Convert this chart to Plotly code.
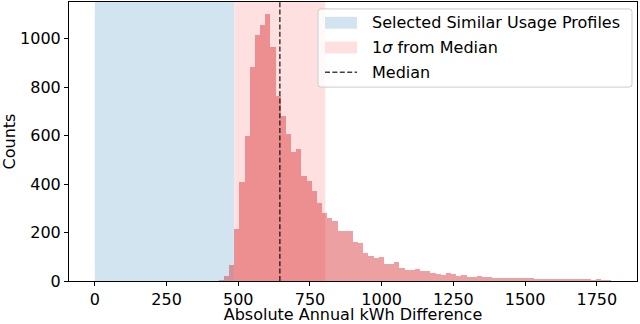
import plotly.graph_objects as go

# histogram of absolute annual kWh differences: 100 bins of 18 kWh from 0
bin_start = 0
bin_width = 18
counts = [
    0, 0, 0, 0, 0, 0, 0, 0, 0, 0,
    0, 0, 0, 0, 0, 0, 0, 0, 0, 0,
    0, 0, 0, 2, 4, 20, 65, 216, 408, 600,
    882, 1016, 1057, 1102, 967, 763, 682, 608, 533, 547,
    432, 412, 372, 324, 282, 261, 247, 205, 205, 205,
    159, 155, 117, 104, 97, 99, 69, 69, 78, 55,
    47, 47, 51, 40, 40, 32, 30, 23, 32, 27,
    22, 24, 16, 16, 20, 16, 16, 11, 14, 14,
    14, 14, 13, 12, 12, 8, 8, 8, 8, 8,
    8, 8, 8, 8, 8, 8, 6, 8, 4, 4,
]
median_kwh = 645
sigma_kwh = 158

x_ticks = [0, 250, 500, 750, 1000, 1250, 1500, 1750]
y_ticks = [0, 200, 400, 600, 800, 1000]

legend_labels = ["Selected Similar Usage Profiles", "1<i>σ</i> from Median", "Median"]

BLUE_SPAN = "#d2e4f0"
PINK_SPAN = "#ffe0e0"
BAR = "rgba(214,39,40,0.44)"
FONT = "DejaVu Sans"

centers = [bin_start + bin_width * (i + 0.5) for i in range(len(counts))]

fig = go.Figure()
fig.add_trace(go.Bar(x=centers, y=counts, width=bin_width,
                     marker=dict(color=BAR, line=dict(width=0)),
                     showlegend=False, hoverinfo="skip"))

# shaded spans (under the bars)
fig.add_vrect(x0=0, x1=median_kwh - sigma_kwh, fillcolor=BLUE_SPAN,
              line_width=0, layer="below")
fig.add_vrect(x0=median_kwh - sigma_kwh, x1=median_kwh + sigma_kwh,
              fillcolor=PINK_SPAN, line_width=0, layer="below")
# median line
fig.add_vline(x=median_kwh, line=dict(color="rgba(0,0,0,0.75)", width=1.5,
                                      dash="5px,2.4px"))

# hand-made legend, placed in paper coords (plot area is 568 x 282 px)
def px_x(p):
    return (p - 69) / 568


def px_y(p):
    return (283 - p) / 282


bx0, bx1, by0, by1 = px_x(318), px_x(632), px_y(87), px_y(8)
rx, ry = 3 / 568, 3 / 282
box = (f"M{bx0+rx},{by0} L{bx1-rx},{by0} Q{bx1},{by0} {bx1},{by0+ry} "
       f"L{bx1},{by1-ry} Q{bx1},{by1} {bx1-rx},{by1} L{bx0+rx},{by1} "
       f"Q{bx0},{by1} {bx0},{by1-ry} L{bx0},{by0+ry} Q{bx0},{by0} {bx0+rx},{by0} Z")
fig.add_shape(type="path", path=box, xref="paper", yref="paper",
              fillcolor="rgba(255,255,255,0.8)", line=dict(color="#cccccc", width=1))

rows = [22, 47, 72]
fig.add_shape(type="rect", xref="paper", yref="paper",
              x0=px_x(325), x1=px_x(357), y0=px_y(rows[0] + 6), y1=px_y(rows[0] - 6),
              fillcolor=BLUE_SPAN, line_width=0)
fig.add_shape(type="rect", xref="paper", yref="paper",
              x0=px_x(325), x1=px_x(357), y0=px_y(rows[1] + 6), y1=px_y(rows[1] - 6),
              fillcolor=PINK_SPAN, line_width=0)
fig.add_shape(type="line", xref="paper", yref="paper",
              x0=px_x(325), x1=px_x(357), y0=px_y(rows[2]), y1=px_y(rows[2]),
              line=dict(color="rgba(0,0,0,0.75)", width=1.5, dash="5px,2.4px"))
for label, row in zip(legend_labels, rows):
    fig.add_annotation(text=label, xref="paper", yref="paper",
                       x=px_x(370), y=px_y(row), xanchor="left", yanchor="middle",
                       showarrow=False, font=dict(family=FONT, size=16, color="black"))

axis_style = dict(showline=True, linecolor="black", linewidth=1, mirror=True,
                  ticks="outside", ticklen=4, tickcolor="black", showgrid=False,
                  zeroline=False, tickfont=dict(family=FONT, size=16, color="black"))
fig.update_xaxes(range=[-90, 1890], tickvals=x_ticks,
                 title=dict(text="Absolute Annual kWh Difference", standoff=3,
                            font=dict(family=FONT, size=16, color="black")),
                 **axis_style)
fig.update_yaxes(range=[0, 1152], tickvals=y_ticks,
                 title=dict(text="Counts", standoff=6,
                            font=dict(family=FONT, size=16, color="black")),
                 **axis_style)

fig.update_layout(width=640, height=324, margin=dict(l=69, r=3, t=1, b=41),
                  plot_bgcolor="white", paper_bgcolor="white", bargap=0,
                  font=dict(family=FONT, size=16, color="black"), showlegend=False)

# drop the page's default 8px body margin so the figure sits at the window corner
fig.write_html("out.html", config={"displayModeBar": False},
               post_script="document.body.style.margin='0';")
